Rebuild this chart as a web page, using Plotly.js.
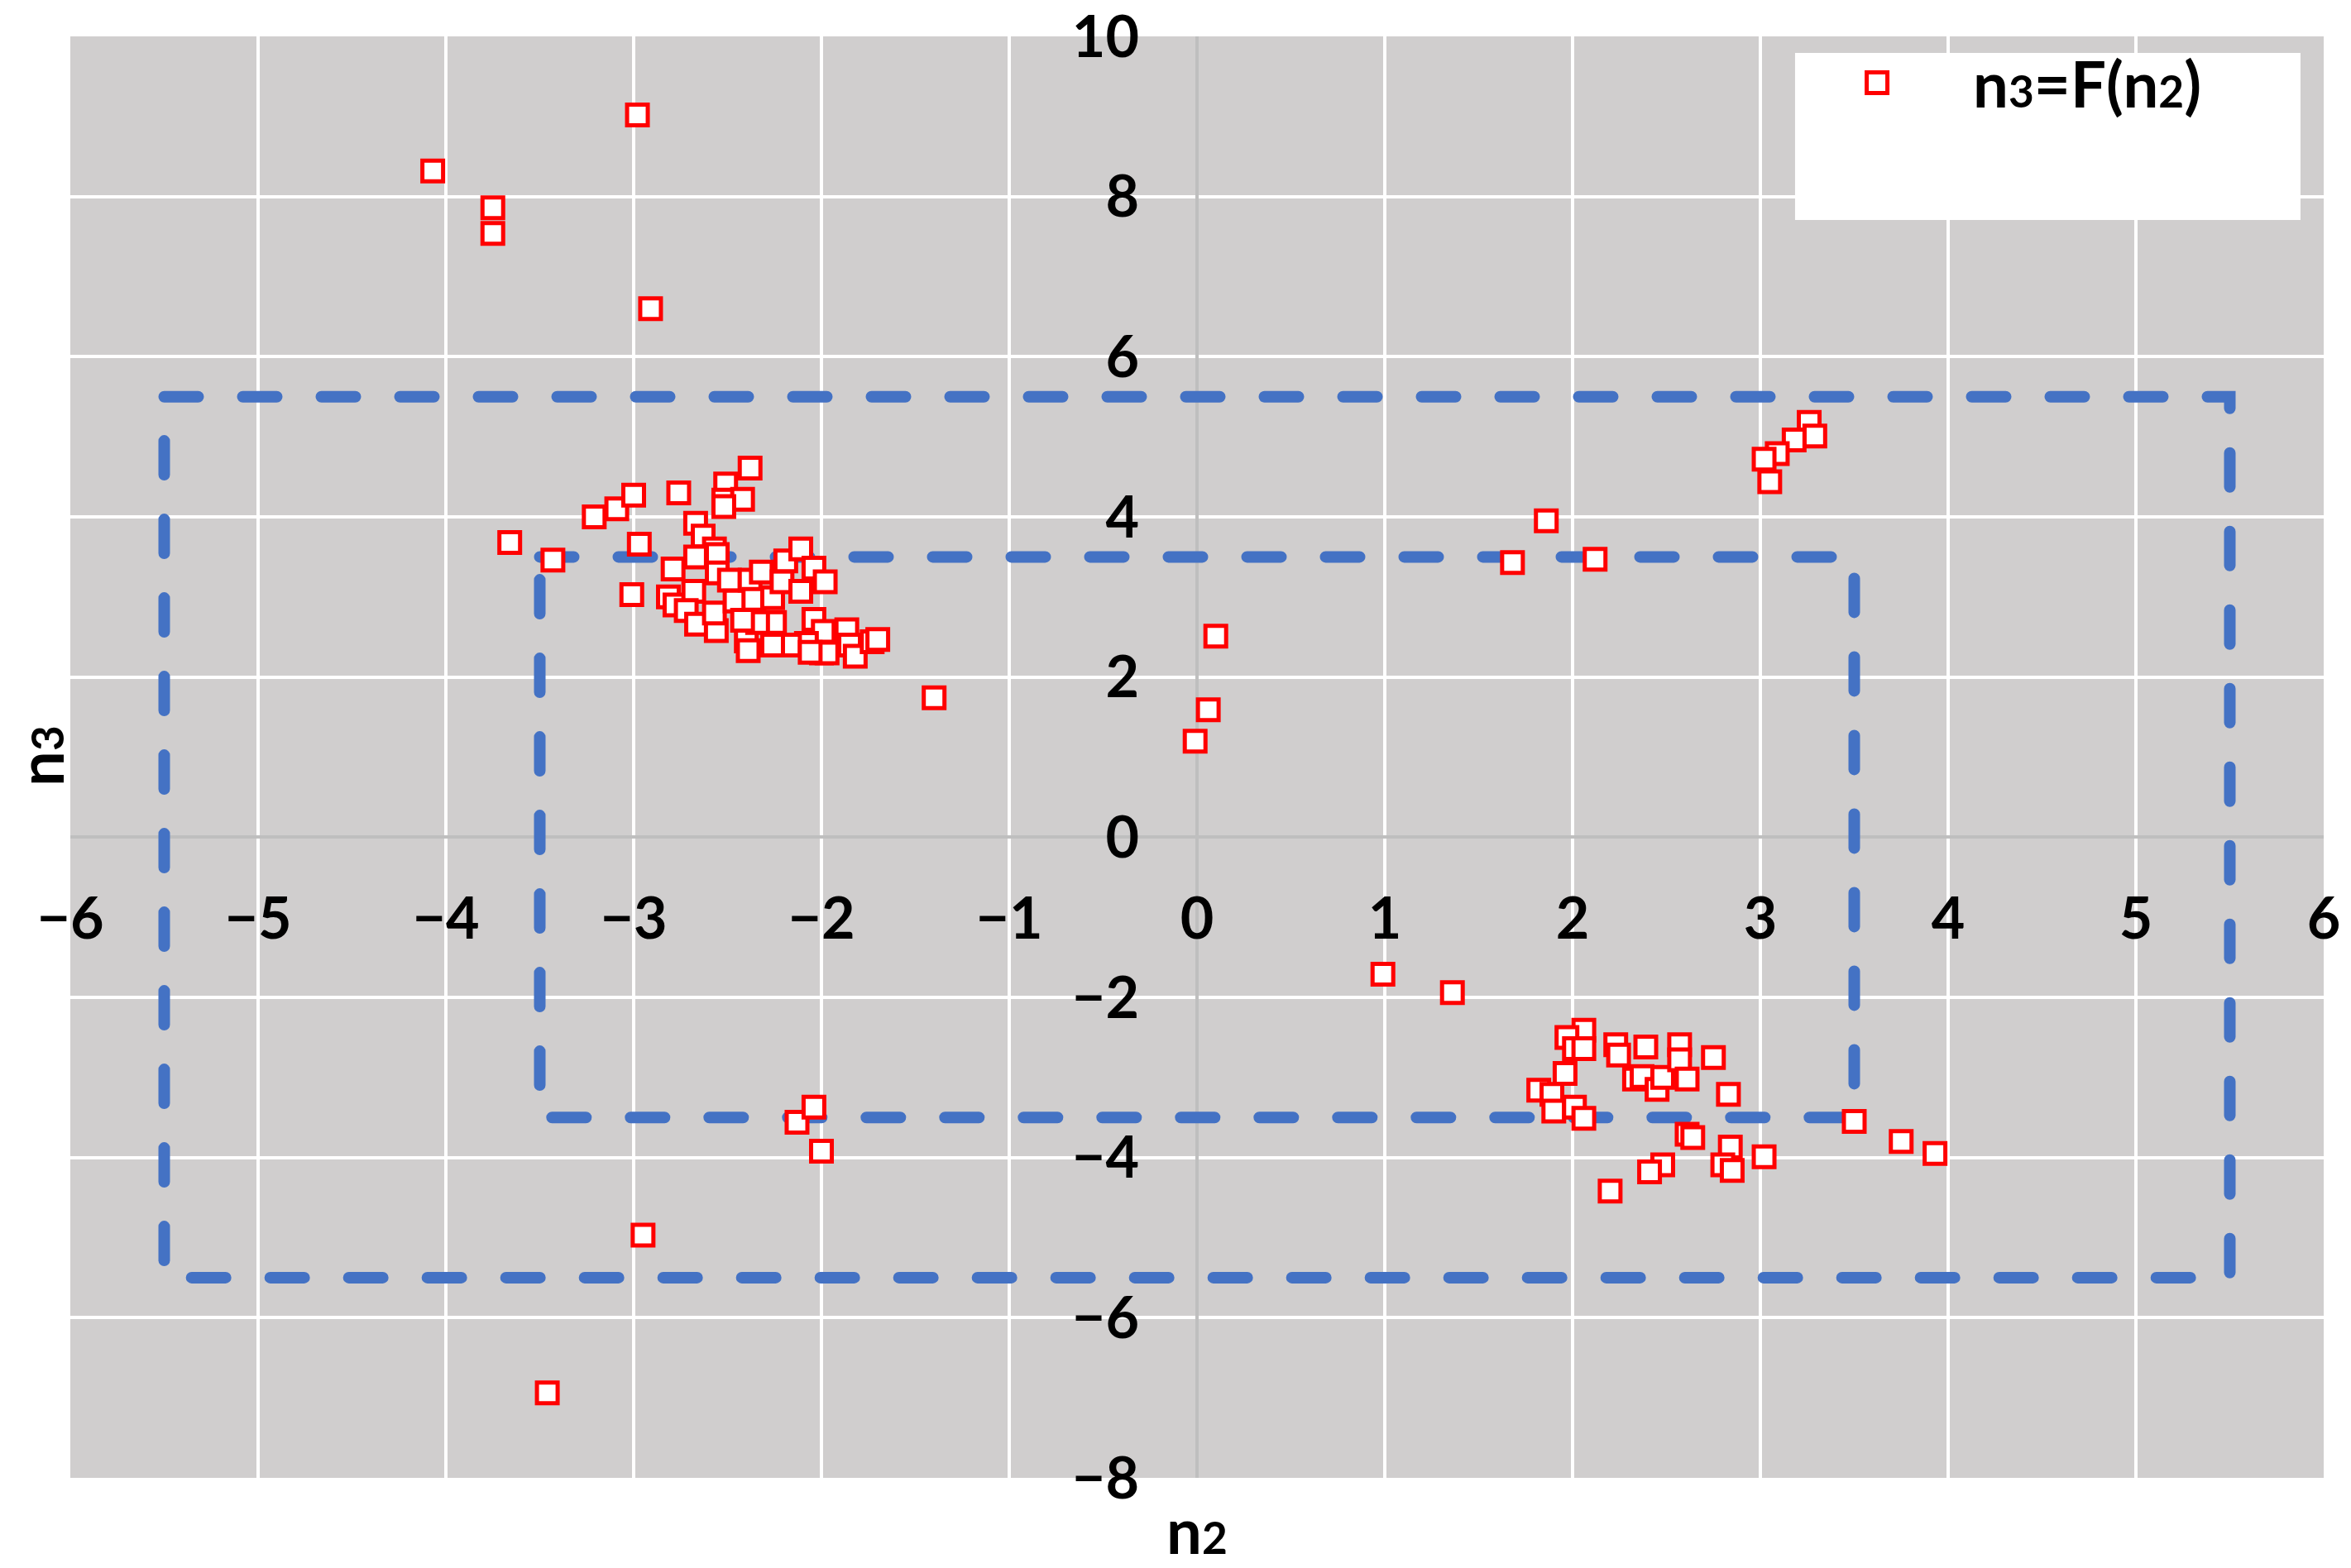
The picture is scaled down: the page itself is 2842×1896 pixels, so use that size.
<!DOCTYPE html>
<html>
<head>
<meta charset="utf-8">
<script src="https://cdn.plot.ly/plotly-3.0.1.min.js"></script>
<style>html,body{margin:0;padding:0;background:#fff;}</style>
</head>
<body>
<div id="chart" style="width:2842px;height:1896px;"></div>
<script>
// ---- data ----
const n2 = [
  -4.07, -2.98, -3.75, -3.75, -2.91, -3.66, -3.43, -1.40, -0.01, 0.06, 0.10,
  1.86, 1.68, 2.12,
  3.26, 3.29, 3.18, 3.09, 3.02, 3.05,
  0.99, 1.36, 3.50, 3.75, 3.93, -2.13, -2.04, -2.00, -2.95, -3.46,
  -3.21, -3.09, -3.00, -2.97, -3.01, -2.76, -2.38, -2.51, -2.52, -2.42, -2.52,
  -2.67, -2.63, -2.57, -2.555, -2.67, -2.79, -2.815, -2.78, -2.68, -2.72,
  -2.665, -2.56, -2.57, -2.555, -2.49, -2.46, -2.38, -2.36, -2.32, -2.26,
  -2.21, -2.19, -2.11, -2.04, -1.98, -2.11, -2.04, -1.99, -2.00, -1.97,
  -1.865, -1.85, -1.82, -1.73, -1.70, -2.08, -2.17, -2.26, -2.40, -2.39,
  -2.25, -2.34, -2.42, -2.06,
  2.06, 1.97, 2.01, 2.06, 1.96, 1.82, 1.89, 1.90, 2.01, 2.06, 2.23, 2.245,
  2.39, 2.33, 2.37, 2.45, 2.48, 2.57, 2.57, 2.61, 2.75, 2.83, 2.61, 2.64,
  2.48, 2.41, 2.20, 2.84, 2.80, 2.85, 3.02
];
const n3 = [
  8.32, 9.02, 7.86, 7.54, 6.60, 3.68, 3.46, 1.74, 1.20, 1.59, 2.51,
  3.95, 3.43, 3.47,
  5.18, 5.01, 4.96, 4.79, 4.72, 4.44,
  -1.71, -1.94, -3.55, -3.80, -3.95, -3.56, -3.37, -3.92, -4.97, -6.94,
  4.00, 4.10, 4.27, 3.66, 3.03, 4.30, 4.61, 4.41, 4.21, 4.22, 4.13,
  3.92, 3.76, 3.60, 3.53, 3.50, 3.35, 3.00, 2.90, 3.07, 2.83,
  2.66, 2.58, 2.80, 3.30, 3.21, 2.95, 3.21, 2.97, 3.31, 2.99,
  3.19, 3.45, 3.60, 3.36, 3.19, 3.07, 2.72, 2.57, 2.30, 2.30,
  2.59, 2.40, 2.26, 2.44, 2.47, 2.42, 2.40, 2.40, 2.45, 2.33,
  2.68, 2.68, 2.71, 2.31,
  -2.41, -2.50, -2.64, -2.64, -2.95, -3.16, -3.21, -3.42, -3.37, -3.51, -2.59, -2.72,
  -2.62, -3.02, -2.99, -3.15, -3.00, -2.59, -2.78, -3.02, -2.75, -3.21, -3.71, -3.75,
  -4.09, -4.18, -4.42, -3.87, -4.09, -4.16, -3.99
];
const outerBoxX = [-5.5, 5.5, 5.5, -5.5, -5.5];
const outerBoxY = [5.5, 5.5, -5.5, -5.5, 5.5];
const innerBoxX = [-3.5, 3.5, 3.5, -3.5, -3.5];
const innerBoxY = [3.5, 3.5, -3.5, -3.5, 3.5];
const xTicks = [-6, -5, -4, -3, -2, -1, 0, 1, 2, 3, 4, 5, 6];
const yTicks = [-8, -6, -4, -2, 0, 2, 4, 6, 8, 10];
const seriesName = "n<span style='font-size:70%'>3</span>=F(n<span style='font-size:70%'>2</span>)";
const xTitle = "n<span style='font-size:70%'>2</span>";
const yTitle = "n<span style='font-size:70%'>3</span>";

// ---- styling ----
const FONT = "Lato, 'Open Sans', 'DejaVu Sans', sans-serif";
const boxLine = {color: '#4472c4', width: 14, dash: '41px,54px'};
const fmt = v => v < 0 ? '\u2212' + Math.abs(v) : String(v);

const traces = [
  {x: outerBoxX, y: outerBoxY, mode: 'lines', line: boxLine, showlegend: false, hoverinfo: 'skip'},
  {x: innerBoxX, y: innerBoxY, mode: 'lines', line: boxLine, showlegend: false, hoverinfo: 'skip'},
  {x: n2, y: n3, mode: 'markers', name: seriesName,
   marker: {symbol: 'square', size: 25, color: '#ffffff', line: {color: '#ff0000', width: 5}}}
];

const tickFont = {family: FONT, size: 70, color: '#000', weight: 'bold'};
const layout = {
  width: 2842, height: 1896,
  margin: {l: 85, r: 33, t: 44, b: 109, pad: 0},
  paper_bgcolor: '#ffffff',
  plot_bgcolor: '#d0cece',
  showlegend: true,
  xaxis: {
    range: [-6, 6], tickmode: 'array', tickvals: xTicks, ticktext: xTicks.map(fmt),
    showgrid: true, gridcolor: '#ffffff', gridwidth: 4,
    zeroline: true, zerolinecolor: '#bfbfbf', zerolinewidth: 4,
    showline: false, ticks: '', anchor: 'free', position: 8 / 18,
    tickfont: tickFont, ticklabelstandoff: 52, ticklabeloverflow: 'allow', fixedrange: true
  },
  yaxis: {
    range: [-8, 10], tickmode: 'array', tickvals: yTicks, ticktext: yTicks.map(fmt),
    showgrid: true, gridcolor: '#ffffff', gridwidth: 4,
    zeroline: true, zerolinecolor: '#bfbfbf', zerolinewidth: 4,
    showline: false, ticks: '', anchor: 'free', position: 0.5,
    tickfont: tickFont, ticklabelstandoff: 70, ticklabeloverflow: 'allow', fixedrange: true
  },
  legend: {
    x: 0.7592, xanchor: 'left', y: 1.0, yanchor: 'top',
    bgcolor: 'rgba(0,0,0,0)', borderwidth: 0, itemwidth: 222,
    font: {family: FONT, size: 76, color: '#000', weight: 'bold'}
  },
  shapes: [{
    type: 'rect', xref: 'paper', yref: 'paper',
    x0: 0.7654, x1: 0.9897, y0: 0.8726, y1: 0.9885,
    fillcolor: '#ffffff', line: {width: 0}, layer: 'above'
  }],
  annotations: [
    {text: xTitle, xref: 'paper', yref: 'paper', x: 0.5, y: -0.036, xanchor: 'center', yanchor: 'middle',
     showarrow: false, font: {family: FONT, size: 76, color: '#000', weight: 'bold'}},
    {text: yTitle, xref: 'paper', yref: 'paper', x: -0.0135, y: 0.501, xanchor: 'center', yanchor: 'middle',
     textangle: -90, showarrow: false, font: {family: FONT, size: 76, color: '#000', weight: 'bold'}}
  ]
};

function tweak() {
  document.querySelectorAll('.scatterlayer .js-line').forEach(function (p) {
    p.style.strokeLinecap = 'round';
  });
  document.querySelectorAll('.legend path.scatterpts').forEach(function (p) {
    var t = p.getAttribute('transform') || '';
    if (t.indexOf('scale') === -1) {
      p.setAttribute('transform', t + ' scale(1.5625)');
    }
    p.style.strokeWidth = '3.2px';
  });
}

const gd = document.getElementById('chart');
Plotly.newPlot(gd, traces, layout, {displayModeBar: false, staticPlot: true}).then(function () {
  tweak();
  gd.on('plotly_afterplot', tweak);
  setTimeout(tweak, 200);
  setTimeout(tweak, 800);
});
</script>
</body>
</html>
